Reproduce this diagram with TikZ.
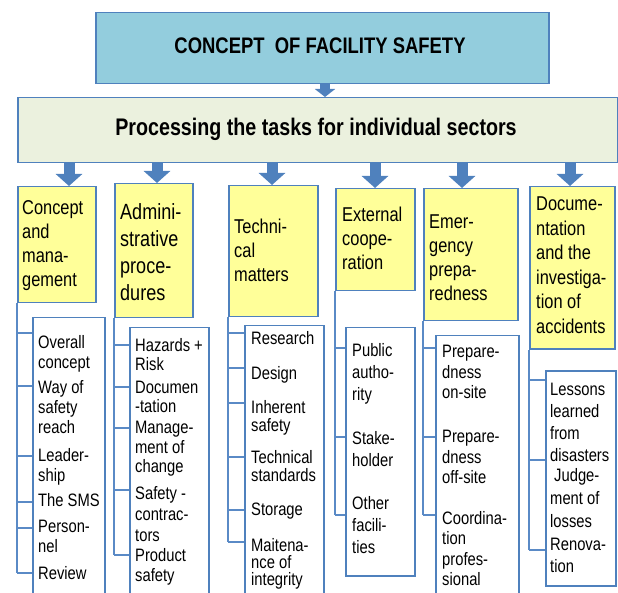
\documentclass[tikz,border=0pt]{standalone}
\usepackage{fontspec}
\setmainfont{Liberation Sans}[FakeStretch=0.82]
\usepackage{xcolor}
\usetikzlibrary{arrows.meta, positioning}

\definecolor{headblue}{HTML}{93CDDD}
\definecolor{procgreen}{HTML}{EBF1DE}
\definecolor{catyellow}{HTML}{FFFF99}
\definecolor{boxblue}{HTML}{4F81BD}
\definecolor{lineblue}{HTML}{5A8AC6}

\begin{document}
\begin{tikzpicture}[
    x=1pt, y=-1pt,
    frame/.style={draw=boxblue, line width=1.5pt, anchor=north west, inner sep=0pt},
    headbox/.style={frame, fill=headblue},
    procbox/.style={frame, fill=procgreen},
    catbox/.style={frame, fill=catyellow},
    listbox/.style={frame, fill=white},
    cattext/.style={anchor=north west, align=left, inner sep=0pt, font=\fontsize{20}{24}\selectfont},
    itemtext/.style={anchor=north west, align=left, inner sep=0pt, font=\fontsize{18}{20}\selectfont},
    bracket/.style={draw=lineblue, line width=2.4pt},
    fatarrow/.style={draw=boxblue, line width=11pt, -{Triangle[width=26pt, length=12pt]}},
    smallarrow/.style={draw=boxblue, line width=10pt, -{Triangle[width=20pt, length=8pt]}}
]
    \useasboundingbox (0,0) rectangle (618,593);

    \node[headbox, minimum width=453pt, minimum height=71pt] (concept) at (95,12) {};
    \node[font=\fontsize{22.5}{26}\selectfont\bfseries] (concepttxt) at (320,46) {CONCEPT\ \ OF FACILITY SAFETY};
    \node[procbox, minimum width=600pt, minimum height=65pt] (proc) at (17,97) {};
    \node[font=\fontsize{24}{26}\selectfont\bfseries] (proctxt) at (316,129) {Processing the tasks for individual sectors};
    \coordinate (a0) at (325,83);
    \draw[smallarrow] (a0) -- (a0 |- proc.north);

    \node[catbox, minimum width=78pt, minimum height=116pt] (cat1) at (17,186) {};
    \node[catbox, minimum width=78pt, minimum height=134pt] (cat2) at (114,183) {};
    \node[catbox, minimum width=89pt, minimum height=131pt] (cat3) at (228,185) {};
    \node[catbox, minimum width=79pt, minimum height=102pt] (cat4) at (335,188) {};
    \node[catbox, minimum width=94pt, minimum height=132pt] (cat5) at (423,188) {};
    \node[catbox, minimum width=85pt, minimum height=162pt] (cat6) at (529,186) {};

    \foreach \x/\c in {69/cat1, 157/cat2, 272/cat3, 375/cat4, 462/cat5, 570/cat6}
        \draw[fatarrow] (proc.south -| \x,0) -- (\c.north -| \x,0);

    \node[cattext] (cat1txt) at (22,200) {Concept\\and\\mana-\\gement};
    \node[cattext, font=\fontsize{22}{27}\selectfont] (cat2txt) at (120,203) {Admini-\\strative\\proce-\\dures};
    \node[cattext] (cat3txt) at (234,219) {Techni-\\cal\\matters};
    \node[cattext] (cat4txt) at (342,207) {External\\coope-\\ration};
    \node[cattext] (cat5txt) at (429,215) {Emer-\\gency\\prepa-\\redness};
    \node[cattext, font=\fontsize{20}{24.5}\selectfont] (cat6txt) at (536,197) {Docume-\\ntation\\and the\\investiga-\\tion of\\accidents};

    \node[listbox, minimum width=72pt, minimum height=278pt] (list1) at (32,317) {};
    \node[listbox, minimum width=79pt, minimum height=268pt] (list2) at (129,327) {};
    \node[listbox, minimum width=79pt, minimum height=270pt] (list3) at (244,325) {};
    \node[listbox, minimum width=69pt, minimum height=248pt] (list4) at (345,327) {};
    \node[listbox, minimum width=83pt, minimum height=260pt] (list5) at (435,335) {};
    \node[listbox, minimum width=70pt, minimum height=215pt] (list6) at (545,370) {};

    \draw[bracket] (cat1.south west) -- (cat1.south west |- 0,573);
    \foreach \y in {333,386,456,502,528,573}
        \draw[bracket] (cat1.south west |- 0,\y) -- (list1.west |- 0,\y);
    \draw[bracket] (cat2.south west) -- (cat2.south west |- 0,555);
    \foreach \y in {345,387,428,490,555}
        \draw[bracket] (cat2.south west |- 0,\y) -- (list2.west |- 0,\y);
    \draw[bracket] (cat3.south west) -- (cat3.south west |- 0,542);
    \foreach \y in {333,368,403,457,510,542}
        \draw[bracket] (cat3.south west |- 0,\y) -- (list3.west |- 0,\y);
    \draw[bracket] (cat4.south west) -- (cat4.south west |- 0,515);
    \foreach \y in {348,437,515}
        \draw[bracket] (cat4.south west |- 0,\y) -- (list4.west |- 0,\y);
    \draw[bracket] (cat5.south west) -- (cat5.south west |- 0,515);
    \foreach \y in {348,437,515}
        \draw[bracket] (cat5.south west |- 0,\y) -- (list5.west |- 0,\y);
    \draw[bracket] (cat6.south west) -- (cat6.south west |- 0,550);
    \foreach \y in {380,460,550}
        \draw[bracket] (cat6.south west |- 0,\y) -- (list6.west |- 0,\y);

    \node[itemtext] (overall) at (38,335) {Overall\\concept};
    \node[itemtext] (way) at (38,380) {Way of\\safety\\reach};
    \node[itemtext] (leader) at (38,448) {Leader-\\ship};
    \node[itemtext] (sms) at (38,493) {The SMS};
    \node[itemtext] (personnel) at (38,520) {Person-\\nel};
    \node[itemtext] (review) at (38,566) {Review};

    \node[itemtext, font=\fontsize{18}{19}\selectfont] (hazards) at (135,338) {Hazards +\\Risk};
    \node[itemtext, font=\fontsize{18}{19}\selectfont] (docu) at (135,381) {Documen\\-tation};
    \node[itemtext, font=\fontsize{18}{19.5}\selectfont] (change) at (135,421) {Manage-\\ment of\\change};
    \node[itemtext, font=\fontsize{18}{21}\selectfont] (contractors) at (135,486) {Safety -\\contrac-\\tors};
    \node[itemtext] (product) at (135,548) {Product\\safety};

    \node[itemtext] (research) at (251,331) {Research};
    \node[itemtext] (design) at (251,366) {Design};
    \node[itemtext, font=\fontsize{18}{18}\selectfont] (inherent) at (251,400) {Inherent\\safety};
    \node[itemtext, font=\fontsize{18}{18}\selectfont] (standards) at (251,450) {Technical\\standards};
    \node[itemtext] (storage) at (251,503) {Storage};
    \node[itemtext, font=\fontsize{18}{17}\selectfont] (integrity) at (251,538) {Maitena-\\nce of\\integrity};

    \node[itemtext, font=\fontsize{18}{22}\selectfont] (public) at (352,343) {Public\\autho-\\rity};
    \node[itemtext, font=\fontsize{18}{22}\selectfont] (stake) at (352,431) {Stake-\\holder};
    \node[itemtext, font=\fontsize{18}{22}\selectfont] (other) at (352,496) {Other\\facili-\\ties};

    \node[itemtext, font=\fontsize{18}{20.5}\selectfont] (onsite) at (442,345) {Prepare-\\dness\\on-site};
    \node[itemtext, font=\fontsize{18}{20.5}\selectfont] (offsite) at (442,430) {Prepare-\\dness\\off-site};
    \node[itemtext, font=\fontsize{18}{20.5}\selectfont] (coord) at (442,511) {Coordina-\\tion\\profes-\\sional};

    \node[itemtext, font=\fontsize{18}{22}\selectfont] (lessons) at (550,383) {Lessons\\learned\\from\\disasters};
    \node[itemtext, font=\fontsize{18}{23}\selectfont] (losses) at (550,468) {\hspace*{4pt}Judge-\\ment of\\losses};
    \node[itemtext, font=\fontsize{18}{22}\selectfont] (renovation) at (550,538) {Renova-\\tion};

\end{tikzpicture}
\end{document}
